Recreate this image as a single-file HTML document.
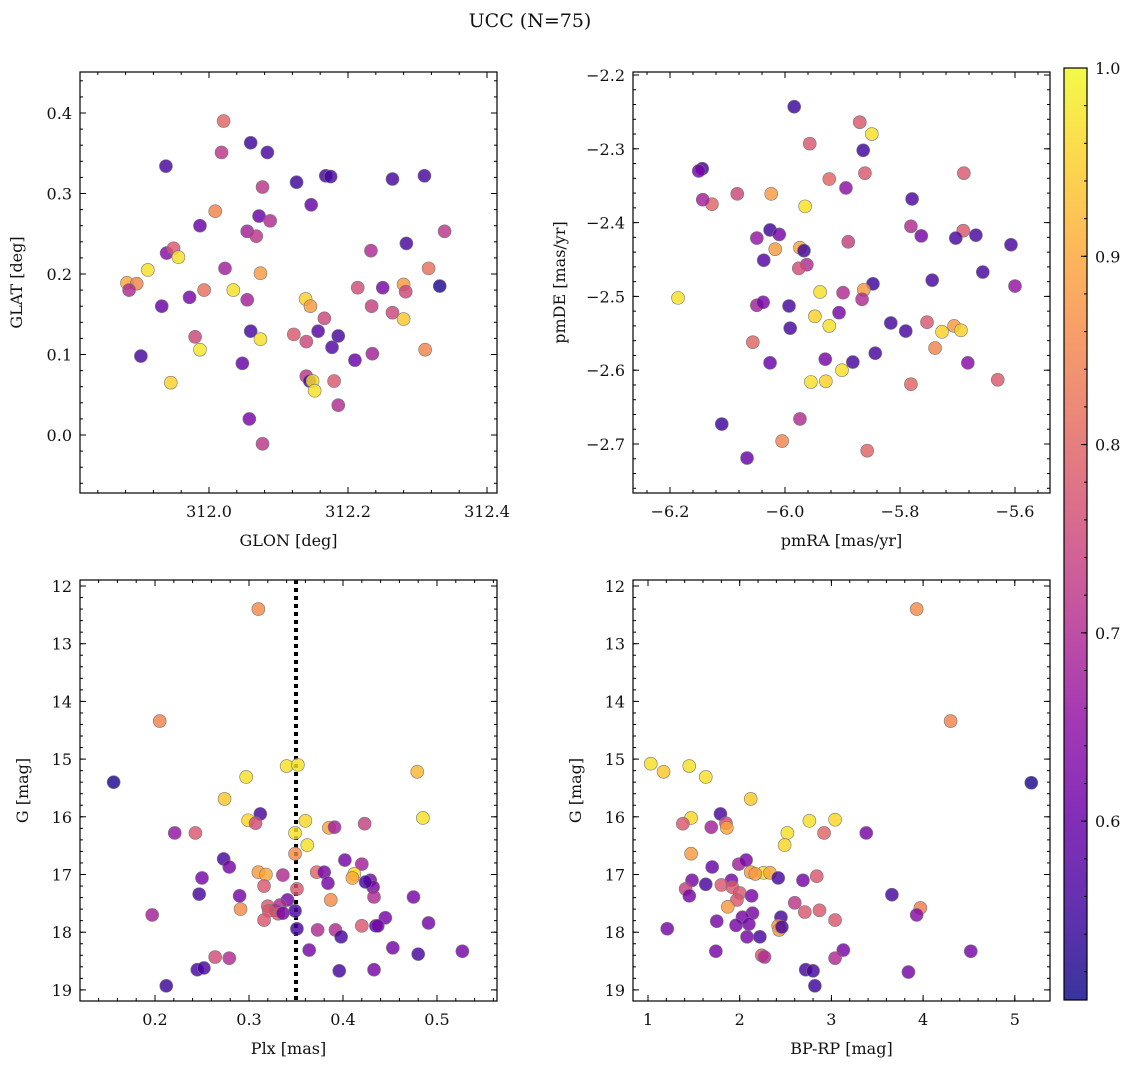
<!DOCTYPE html>
<html><head><meta charset="utf-8"><style>
body{margin:0;background:#fff}
svg text{font-family:"DejaVu Serif","Liberation Serif",serif;fill:#111}
</style></head><body>
<svg id="c" width="1136" height="1068" xmlns="http://www.w3.org/2000/svg">
<text x="530" y="27" font-size="19" text-anchor="middle">UCC (N=75)</text>
</svg>
<script>
// Panel 1: GLON / GLAT
const p1GLON=[311.938,312.018,312.021,312.060,312.084,312.126,312.147,312.168,312.077,312.072,312.088,312.009,311.987,312.055,312.068,311.939,311.949,311.956,311.912,311.882,311.896,311.885,312.023,312.074,311.972,311.932,311.993,312.035,312.055,311.980,311.987,312.060,312.074,312.048,311.902,311.945,312.058,312.077,312.122,312.139,312.146,312.140,312.166,312.157,312.177,312.186,312.140,312.145,312.149,312.152,312.180,312.186,312.214,312.210,312.233,312.234,312.235,312.250,312.264,312.280,312.283,312.280,312.284,312.264,312.310,312.316,312.332,312.339,312.311,312.175];
const p1GLAT=[0.334,0.351,0.390,0.363,0.351,0.314,0.286,0.322,0.308,0.272,0.266,0.278,0.260,0.253,0.247,0.226,0.232,0.221,0.205,0.189,0.188,0.180,0.207,0.201,0.171,0.160,0.180,0.180,0.168,0.122,0.106,0.129,0.119,0.089,0.098,0.065,0.020,-0.011,0.125,0.169,0.160,0.116,0.145,0.129,0.109,0.123,0.073,0.067,0.067,0.055,0.067,0.037,0.183,0.093,0.229,0.160,0.101,0.183,0.152,0.187,0.178,0.144,0.238,0.318,0.322,0.207,0.185,0.253,0.106,0.321];
const p1Prob=[0.56,0.72,0.80,0.55,0.56,0.55,0.60,0.56,0.72,0.60,0.70,0.85,0.60,0.68,0.72,0.64,0.78,0.97,0.97,0.90,0.85,0.70,0.68,0.88,0.62,0.60,0.82,0.97,0.68,0.75,0.98,0.56,0.97,0.60,0.56,0.95,0.62,0.72,0.78,0.95,0.88,0.75,0.75,0.58,0.58,0.56,0.72,0.56,0.97,0.97,0.78,0.70,0.76,0.60,0.70,0.74,0.68,0.62,0.75,0.88,0.75,0.94,0.56,0.56,0.56,0.82,0.52,0.72,0.85,0.56];
// Panel 2: pmRA / pmDE
const p2RA=[-5.984,-5.870,-5.849,-5.864,-5.957,-6.144,-6.150,-5.923,-6.083,-6.024,-5.861,-5.894,-6.127,-6.143,-5.965,-5.779,-5.689,-5.781,-5.763,-5.690,-5.703,-5.668,-5.890,-6.049,-6.026,-6.010,-5.974,-5.967,-6.017,-6.186,-6.037,-5.962,-5.976,-5.744,-5.656,-5.600,-5.607,-5.847,-5.939,-5.899,-5.863,-5.866,-6.049,-6.038,-5.993,-5.948,-5.923,-5.906,-5.816,-5.790,-5.727,-5.706,-5.694,-5.753,-5.739,-5.991,-6.056,-5.843,-5.882,-5.930,-5.901,-5.929,-5.955,-6.026,-5.781,-5.682,-5.630,-5.974,-6.005,-6.110,-6.066,-5.857];
const p2DE=[-2.243,-2.264,-2.280,-2.302,-2.293,-2.327,-2.330,-2.341,-2.361,-2.361,-2.333,-2.353,-2.375,-2.369,-2.378,-2.368,-2.333,-2.405,-2.418,-2.411,-2.421,-2.417,-2.426,-2.421,-2.410,-2.416,-2.434,-2.438,-2.436,-2.502,-2.451,-2.457,-2.462,-2.478,-2.467,-2.486,-2.430,-2.483,-2.494,-2.495,-2.491,-2.504,-2.512,-2.508,-2.513,-2.527,-2.540,-2.522,-2.536,-2.547,-2.548,-2.540,-2.546,-2.535,-2.570,-2.543,-2.562,-2.577,-2.589,-2.585,-2.600,-2.615,-2.616,-2.590,-2.619,-2.590,-2.613,-2.666,-2.696,-2.673,-2.719,-2.709];
const p2Prob=[0.55,0.78,0.97,0.55,0.78,0.55,0.62,0.80,0.75,0.88,0.78,0.65,0.80,0.68,0.97,0.57,0.78,0.70,0.62,0.78,0.56,0.56,0.74,0.66,0.55,0.62,0.90,0.55,0.88,0.97,0.58,0.70,0.76,0.56,0.56,0.66,0.56,0.55,0.97,0.70,0.88,0.70,0.68,0.62,0.56,0.95,0.97,0.62,0.56,0.56,0.95,0.88,0.95,0.78,0.85,0.56,0.80,0.56,0.56,0.62,0.97,0.95,0.97,0.60,0.80,0.64,0.78,0.70,0.85,0.55,0.60,0.80];
// Panel 3: Plx / G
const p3Plx=[0.156,0.310,0.205,0.340,0.352,0.297,0.479,0.274,0.312,0.299,0.307,0.221,0.243,0.360,0.385,0.391,0.423,0.485,0.349,0.362,0.349,0.273,0.279,0.402,0.420,0.310,0.318,0.336,0.372,0.380,0.412,0.410,0.429,0.432,0.424,0.250,0.316,0.351,0.384,0.247,0.290,0.433,0.475,0.387,0.291,0.341,0.320,0.333,0.349,0.328,0.321,0.316,0.331,0.336,0.445,0.197,0.491,0.351,0.373,0.392,0.435,0.420,0.437,0.398,0.364,0.453,0.264,0.279,0.480,0.527,0.245,0.252,0.396,0.433,0.212];
const p3G=[15.40,12.40,14.34,15.12,15.10,15.31,15.22,15.69,15.95,16.06,16.11,16.28,16.28,16.07,16.19,16.18,16.12,16.02,16.28,16.49,16.64,16.73,16.87,16.75,16.82,16.96,17.00,17.01,16.96,16.96,16.99,17.06,17.10,17.22,17.13,17.06,17.20,17.25,17.15,17.34,17.37,17.39,17.39,17.44,17.60,17.44,17.55,17.53,17.63,17.62,17.63,17.79,17.68,17.67,17.75,17.70,17.84,17.94,17.96,17.96,17.89,17.89,17.89,18.08,18.31,18.27,18.43,18.45,18.38,18.33,18.65,18.62,18.67,18.65,18.93];
const p3Prob=[0.52,0.86,0.85,0.97,0.97,0.97,0.92,0.94,0.56,0.96,0.76,0.66,0.78,0.96,0.90,0.68,0.74,0.97,0.97,0.97,0.86,0.56,0.62,0.62,0.68,0.88,0.90,0.70,0.80,0.62,0.96,0.90,0.62,0.62,0.56,0.62,0.78,0.78,0.62,0.56,0.62,0.70,0.62,0.86,0.86,0.62,0.78,0.70,0.56,0.70,0.78,0.78,0.78,0.62,0.62,0.68,0.62,0.56,0.70,0.70,0.56,0.78,0.62,0.56,0.62,0.62,0.76,0.70,0.56,0.62,0.56,0.56,0.56,0.62,0.55];
// Panel 4: BP-RP / G
const p4BPRP=[1.03,1.17,1.45,1.63,5.18,3.93,4.30,2.12,1.79,1.47,2.76,3.04,1.85,1.38,1.69,1.86,2.52,2.92,3.38,2.49,1.47,1.99,2.07,1.70,2.12,2.26,2.33,2.17,2.69,2.84,1.48,1.91,2.42,1.63,1.80,1.92,1.41,1.45,2.00,2.13,1.97,3.66,3.97,3.93,1.87,2.60,2.14,2.03,2.87,2.71,2.45,3.04,1.75,1.96,2.10,2.42,1.21,2.43,2.08,2.46,2.22,1.74,2.24,2.27,3.13,4.52,3.04,2.72,2.80,3.84,2.82];
const p4G=[15.08,15.22,15.12,15.31,15.41,12.40,14.34,15.69,15.95,16.02,16.07,16.05,16.11,16.12,16.18,16.19,16.28,16.28,16.28,16.49,16.64,16.82,16.75,16.87,16.96,16.97,16.97,16.99,17.10,17.03,17.10,17.10,17.06,17.17,17.18,17.22,17.25,17.37,17.32,17.37,17.44,17.35,17.58,17.70,17.56,17.49,17.67,17.74,17.62,17.65,17.74,17.79,17.81,17.88,17.86,17.89,17.94,17.96,18.08,17.91,18.08,18.33,18.40,18.43,18.31,18.33,18.45,18.65,18.67,18.69,18.93];
const p4Prob=[0.97,0.94,0.97,0.97,0.52,0.86,0.85,0.94,0.56,0.96,0.97,0.96,0.76,0.78,0.68,0.90,0.97,0.80,0.62,0.96,0.88,0.68,0.62,0.60,0.88,0.97,0.90,0.88,0.62,0.78,0.62,0.62,0.56,0.56,0.78,0.78,0.74,0.62,0.78,0.62,0.78,0.56,0.84,0.64,0.88,0.72,0.62,0.62,0.78,0.78,0.56,0.78,0.62,0.62,0.62,0.88,0.62,0.88,0.62,0.56,0.56,0.62,0.78,0.70,0.62,0.62,0.70,0.56,0.56,0.62,0.55];
const cbTicks=[0.6,0.7,0.8,0.9,1.0];
const p1XTicks=[312.0,312.2,312.4], p1YTicks=[0.0,0.1,0.2,0.3,0.4];
const p2XTicks=[-6.2,-6.0,-5.8,-5.6], p2YTicks=[-2.2,-2.3,-2.4,-2.5,-2.6,-2.7];
const p3XTicks=[0.2,0.3,0.4,0.5], gTicks=[12,13,14,15,16,17,18,19];
const p4XTicks=[1,2,3,4,5];
const plxLine=0.35;

const NS="http://www.w3.org/2000/svg", svg=document.getElementById('c');
const VMIN=0.505,VMAX=1.0;
const stops=[[13,8,135],[65,4,157],[106,0,168],[143,13,164],[177,42,144],[204,71,120],[225,100,98],[242,132,75],[252,166,54],[252,206,37],[240,249,33]];
function cmap(v){let t=Math.max(0,Math.min(1,(v-VMIN)/(VMAX-VMIN)))*10;let i=Math.min(9,Math.floor(t)),f=t-i;const a=stops[i],b=stops[i+1];return 'rgb('+a.map((c,k)=>Math.round(c+(b[k]-c)*f)).join(',')+')';}
function mk(tag,at,parent){const e=document.createElementNS(NS,tag);for(const k in at)e.setAttribute(k,at[k]);(parent||svg).appendChild(e);return e;}
function fmt(v,d){return (v<0?'\u2212':'')+Math.abs(v).toFixed(d);}
function panel(o){
  const sx=v=>o.xRef+(v-o.x0)*o.kx, sy=v=>o.yRef+(v-o.yv)*o.ky;
  const g=mk('g',{});
  
  
  const n0=Math.ceil(o.xmin/o.xm-1e-6), n1=Math.floor(o.xmax/o.xm+1e-6);
  for(let n=n0;n<=n1;n++){const x=sx(n*o.xm);if(x<o.L||x>o.R)continue;mk('line',{x1:x,x2:x,y1:o.B,y2:o.B-3,stroke:'#000','stroke-width':1},g);mk('line',{x1:x,x2:x,y1:o.T,y2:o.T+3,stroke:'#000','stroke-width':1},g);}
  const ya=Math.min(o.ymin,o.ymax),yb=Math.max(o.ymin,o.ymax);
  const m0=Math.ceil(ya/o.ym-1e-6), m1=Math.floor(yb/o.ym+1e-6);
  for(let n=m0;n<=m1;n++){const y=sy(n*o.ym);if(y<o.T||y>o.B)continue;mk('line',{x1:o.L,x2:o.L+3,y1:y,y2:y,stroke:'#000','stroke-width':1},g);mk('line',{x1:o.R,x2:o.R-3,y1:y,y2:y,stroke:'#000','stroke-width':1},g);}
  o.xt.forEach(v=>{const x=sx(v);mk('line',{x1:x,x2:x,y1:o.B,y2:o.B-6,stroke:'#000','stroke-width':1},g);mk('line',{x1:x,x2:x,y1:o.T,y2:o.T+6,stroke:'#000','stroke-width':1},g);
    const t=mk('text',{x:x,y:o.B+24,'font-size':16,'text-anchor':'middle'},g);t.textContent=fmt(v,o.xd);});
  o.yt.forEach(v=>{const y=sy(v);mk('line',{x1:o.L,x2:o.L+6,y1:y,y2:y,stroke:'#000','stroke-width':1},g);mk('line',{x1:o.R,x2:o.R-6,y1:y,y2:y,stroke:'#000','stroke-width':1},g);
    const t=mk('text',{x:o.L-8,y:y+6,'font-size':16,'text-anchor':'end'},g);t.textContent=fmt(v,o.yd);});
  if(o.vline!==undefined){const x=sx(o.vline);const l=mk('line',{x1:x,x2:x,y1:o.T,y2:o.B,stroke:'#000','stroke-width':4,'stroke-dasharray':'4,4'},g);}
  for(let i=0;i<o.X.length;i++){const c=mk('circle',{cx:sx(o.X[i]),cy:sy(o.Y[i]),r:6.5,fill:cmap(o.P[i]),'fill-opacity':0.82,stroke:'#777','stroke-width':0.6},g);
    
    }
  const f=mk('rect',{x:o.L,y:o.T,width:o.R-o.L,height:o.B-o.T,fill:'none',stroke:'#000','stroke-width':1.2},g);
  
  const xl=mk('text',{x:(o.L+o.R)/2,y:o.B+53,'font-size':16,'text-anchor':'middle'},g);xl.textContent=o.xlab;
  
  const cy=(o.T+o.B)/2,yx=o.L-o.ylabOff;
  const yl=mk('text',{x:yx,y:cy,'font-size':16,'text-anchor':'middle',transform:'rotate(-90 '+yx+' '+cy+')'},g);yl.textContent=o.ylab;
  
}
panel({name:'glon-glat-panel',L:80,R:497,T:72,B:493,xRef:209,x0:312.0,kx:695,yRef:435,yv:0,ky:-805,xmin:311.8,xmax:312.44,xm:0.04,ymin:-0.07,ymax:0.45,ym:0.02,xt:p1XTicks,yt:p1YTicks,xd:1,yd:1,X:p1GLON,Y:p1GLAT,P:p1Prob,xlab:'GLON [deg]',ylab:'GLAT [deg]',ylabOff:58});
panel({name:'pm-panel',L:633,R:1050,T:72,B:493,xRef:785,x0:-6.0,kx:575,yRef:75,yv:-2.2,ky:-738,xmin:-6.28,xmax:-5.52,xm:0.04,ymin:-2.78,ymax:-2.18,ym:0.02,xt:p2XTicks,yt:p2YTicks,xd:1,yd:1,X:p2RA,Y:p2DE,P:p2Prob,xlab:'pmRA [mas/yr]',ylab:'pmDE [mas/yr]',ylabOff:68});
panel({name:'plx-g-panel',L:80,R:497,T:580,B:1001,xRef:155,x0:0.2,kx:940,yRef:586,yv:12,ky:57.7,xmin:0.1,xmax:0.58,xm:0.02,ymin:11.8,ymax:19.4,ym:0.2,xt:p3XTicks,yt:gTicks,xd:1,yd:0,X:p3Plx,Y:p3G,P:p3Prob,xlab:'Plx [mas]',ylab:'G [mag]',ylabOff:52,vline:plxLine});
panel({name:'color-g-panel',L:633,R:1050,T:580,B:1001,xRef:648,x0:1,kx:91.7,yRef:586,yv:12,ky:57.7,xmin:0.8,xmax:5.4,xm:0.2,ymin:11.8,ymax:19.4,ym:0.2,xt:p4XTicks,yt:gTicks,xd:0,yd:0,X:p4BPRP,Y:p4G,P:p4Prob,xlab:'BP-RP [mag]',ylab:'G [mag]',ylabOff:52});
// colorbar
(function(){
  const L=1064,W=23,T=68,B=1000;const cy=v=>T+(VMAX-v)/(VMAX-VMIN)*(B-T);
  const g=mk('g',{});
  const defs=mk('defs',{},g);const lg=mk('linearGradient',{id:'pl',x1:0,y1:1,x2:0,y2:0},defs);
  for(let i=0;i<=20;i++){const v=VMIN+(VMAX-VMIN)*i/20;mk('stop',{offset:(i/20),'stop-color':cmap(v),'stop-opacity':0.82},lg);}
  mk('rect',{x:L,y:T,width:W,height:B-T,fill:'url(#pl)',stroke:'#000','stroke-width':1.2},g);
  for(let n=26;n<=50;n++){const y=cy(n*0.02);mk('line',{x1:L+W,x2:L+W-3,y1:y,y2:y,stroke:'#000'},g);}
  cbTicks.forEach(v=>{const y=cy(v);mk('line',{x1:L+W,x2:L+W-6,y1:y,y2:y,stroke:'#000'},g);
    const t=mk('text',{x:L+W+8,y:y+6,'font-size':16},g);t.textContent=v.toFixed(1);});
})();
</script>
</body></html>
